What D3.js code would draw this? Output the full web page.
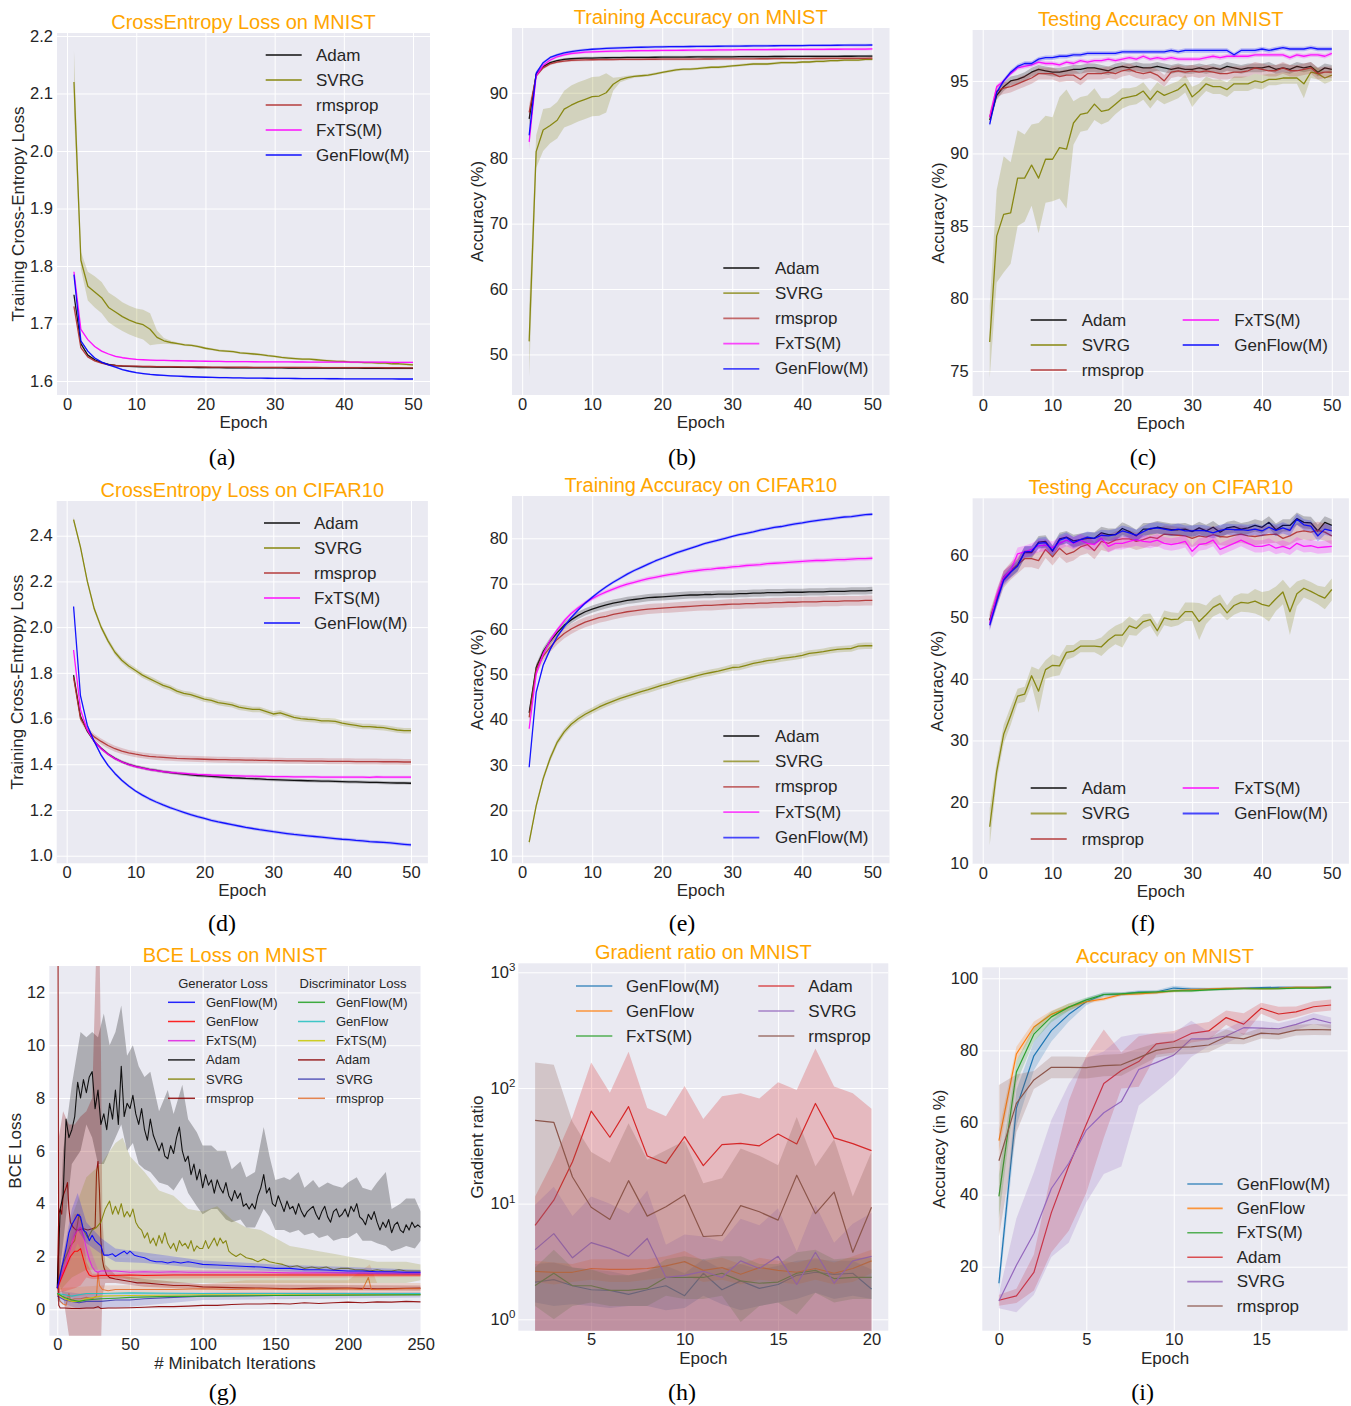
<!DOCTYPE html>
<html><head><meta charset="utf-8">
<script src="https://cdn.jsdelivr.net/npm/d3@7"></script>
<style>body{margin:0;background:#fff} svg{display:block} text{font-family:"Liberation Sans",Arial,Helvetica,sans-serif}</style>
</head><body><svg id="c" width="1351" height="1406"></svg>
<script>
// ======================= DATA =======================
const EPOCHS = d3.range(1, 51);
const NAMES5 = ["Adam","SVRG","rmsprop","FxTS(M)","GenFlow(M)"];
const COL5 = ["#000000","#808000","#b03030","#ff00ff","#0000ff"];

// (a) CrossEntropy loss on MNIST
const a_adam = [1.75,1.665,1.645,1.637,1.632,1.629,1.627,1.626,1.6255,1.625,1.6248,1.6246,1.6244,1.6242,1.624,1.624,1.6238,1.6236,1.6235,1.6234,1.6233,1.6232,1.6231,1.623,1.623,1.623,1.6229,1.6228,1.6228,1.6227,1.6227,1.6226,1.6226,1.6225,1.6225,1.6225,1.6224,1.6224,1.6224,1.6223,1.6223,1.6223,1.6222,1.6222,1.6222,1.6221,1.6221,1.6221,1.622,1.622];
const a_svrg = [2.12,1.81,1.765,1.755,1.745,1.728,1.72,1.712,1.706,1.701,1.698,1.69,1.676,1.67,1.667,1.665,1.663,1.662,1.66,1.657,1.655,1.653,1.652,1.651,1.649,1.648,1.647,1.646,1.644,1.643,1.641,1.64,1.639,1.638,1.638,1.637,1.636,1.635,1.634,1.634,1.633,1.633,1.632,1.632,1.631,1.631,1.63,1.63,1.629,1.628];
const a_svrg_sd = [0.055,0.015,0.025,0.027,0.027,0.026,0.026,0.025,0.025,0.025,0.026,0.028,0.012,0.005,0.003,0.002,0.002,0.002,0.002,0.002,0.002,0.002,0.002,0.002,0.002,0.002,0.002,0.002,0.002,0.002,0.002,0.002,0.002,0.002,0.002,0.002,0.002,0.002,0.002,0.002,0.002,0.002,0.002,0.002,0.002,0.002,0.002,0.002,0.002,0.002];
const a_rms = [1.73,1.658,1.642,1.635,1.631,1.628,1.627,1.6265,1.626,1.6258,1.6255,1.6253,1.6251,1.625,1.6249,1.6248,1.6247,1.6246,1.6245,1.6244,1.6243,1.6242,1.6241,1.624,1.624,1.624,1.6239,1.6238,1.6238,1.6237,1.6237,1.6236,1.6236,1.6235,1.6235,1.6235,1.6234,1.6234,1.6234,1.6233,1.6233,1.6233,1.6232,1.6232,1.6232,1.6231,1.6231,1.6231,1.623,1.623];
const a_fxts = [1.79,1.69,1.672,1.66,1.652,1.647,1.643,1.6405,1.639,1.6375,1.637,1.6365,1.636,1.6358,1.6355,1.6353,1.635,1.6348,1.6346,1.6344,1.6342,1.634,1.6339,1.6338,1.6337,1.6336,1.6335,1.6334,1.6333,1.6333,1.6332,1.6332,1.6331,1.6331,1.633,1.633,1.633,1.6329,1.6329,1.6329,1.6328,1.6328,1.6328,1.6327,1.6327,1.6327,1.6326,1.6326,1.6326,1.6325];
const a_gen = [1.785,1.67,1.652,1.64,1.633,1.628,1.624,1.62,1.617,1.6145,1.613,1.6115,1.6105,1.6097,1.609,1.6084,1.6079,1.6074,1.607,1.6066,1.6063,1.606,1.6058,1.6056,1.6054,1.6052,1.605,1.6049,1.6048,1.6047,1.6046,1.6045,1.6044,1.6043,1.6042,1.6041,1.6041,1.604,1.604,1.6039,1.6039,1.6038,1.6038,1.6037,1.6037,1.6036,1.6036,1.6035,1.6035,1.6035];
const a_sd_small = 0.0015;

// (b) Training accuracy on MNIST
const b_adam = [86,92.8,94,94.6,94.9,95.1,95.2,95.25,95.3,95.3,95.33,95.35,95.37,95.38,95.4,95.4,95.41,95.42,95.43,95.44,95.45,95.45,95.46,95.47,95.48,95.48,95.49,95.5,95.5,95.5,95.51,95.52,95.52,95.53,95.53,95.54,95.54,95.55,95.55,95.55,95.56,95.56,95.57,95.57,95.57,95.58,95.58,95.59,95.59,95.6];
const b_svrg = [52,81,84.3,85,85.8,87.5,88.1,88.6,89,89.4,89.5,90,91.3,92,92.3,92.5,92.6,92.7,92.9,93.1,93.3,93.5,93.6,93.6,93.7,93.8,93.9,93.9,94,94.1,94.2,94.3,94.4,94.4,94.4,94.5,94.6,94.6,94.6,94.7,94.7,94.8,94.8,94.9,94.9,95,95,95,95.1,95.1];
const b_svrg_sd = [5.5,2.5,3.2,2.7,2.8,2.8,3,3,3,3,3,3,1,0.4,0.3,0.2,0.2,0.2,0.2,0.2,0.2,0.2,0.2,0.2,0.2,0.2,0.2,0.2,0.2,0.2,0.2,0.2,0.2,0.2,0.2,0.2,0.2,0.2,0.2,0.2,0.2,0.2,0.2,0.2,0.2,0.2,0.2,0.2,0.2,0.2];
const b_rms = [87,92.6,93.8,94.4,94.7,94.85,94.95,95,95.02,95.05,95.06,95.07,95.08,95.09,95.1,95.1,95.11,95.12,95.12,95.13,95.13,95.14,95.14,95.15,95.15,95.16,95.16,95.17,95.17,95.18,95.18,95.19,95.19,95.2,95.2,95.21,95.21,95.22,95.22,95.23,95.23,95.24,95.24,95.25,95.25,95.26,95.26,95.27,95.27,95.3];
const b_fxts = [82.5,92.6,94.2,95,95.5,95.8,96,96.1,96.2,96.25,96.3,96.33,96.36,96.38,96.4,96.42,96.44,96.45,96.46,96.47,96.48,96.49,96.5,96.51,96.52,96.53,96.54,96.55,96.56,96.57,96.58,96.58,96.59,96.6,96.6,96.61,96.61,96.62,96.62,96.63,96.63,96.64,96.64,96.65,96.65,96.66,96.66,96.67,96.67,96.7];
const b_gen = [83.5,93,94.6,95.4,95.8,96.1,96.3,96.45,96.55,96.65,96.72,96.78,96.83,96.87,96.9,96.93,96.96,96.98,97,97.02,97.04,97.05,97.06,97.07,97.08,97.09,97.1,97.11,97.12,97.13,97.14,97.15,97.16,97.17,97.18,97.19,97.2,97.2,97.21,97.22,97.23,97.23,97.24,97.25,97.26,97.27,97.28,97.28,97.29,97.3];
const b_sd_small = 0.2;
const b_sd_first = [1.2,0.3];

// (c) Testing accuracy on MNIST
const c_adam = [92.3,94,94.6,95,95.1,95.3,95.6,95.8,95.7,95.6,95.6,95.7,95.8,95.8,95.9,95.9,95.8,95.7,95.9,96.0,95.9,96.0,95.9,95.9,96.0,95.9,95.8,95.9,95.8,95.8,95.9,95.8,95.9,95.8,96.0,95.9,95.8,95.9,95.9,95.9,96.0,95.8,95.9,95.8,96.0,95.9,96.0,95.6,95.9,95.8];
const c_svrg = [77,84.3,85.8,85.9,88.3,88.3,89.2,88.3,89.6,89.6,90.4,90.3,92.1,92.7,92.8,93.4,92.9,93.0,93.4,93.8,93.9,94.0,94.3,93.7,94.3,94.0,94.2,94.4,94.8,93.9,94.3,94.8,94.6,94.6,94.4,94.8,94.8,94.8,95.0,94.9,95.1,95.1,95.2,95.2,95.2,94.8,95.6,95.5,95.2,95.4];
const c_svrg_sd = [2.5,3.2,4,3.5,3.3,3,2.8,3.8,3,2.9,3.5,4.1,1.5,1.2,1.2,1.1,0.9,0.8,0.7,0.7,0.6,0.6,0.6,0.6,0.6,0.6,0.6,0.6,0.6,0.7,0.5,0.5,0.5,0.5,0.5,0.5,0.5,0.5,0.5,0.5,0.4,0.4,0.4,0.4,0.4,1.0,0.4,0.4,0.4,0.4];
const c_rms = [92.5,94.3,94.5,94.6,94.8,95.0,95.2,95.5,95.5,95.5,95.3,95.4,95.4,95.1,95.5,95.5,95.5,95.6,95.5,95.7,95.8,95.6,95.5,95.6,95.4,95.0,95.6,95.7,95.6,95.7,95.6,95.7,95.6,95.5,95.5,95.6,95.6,95.7,95.9,95.8,95.7,95.7,95.9,95.7,95.7,95.8,95.9,95.5,95.6,95.6];
const c_fxts = [92.5,94.6,95.0,95.5,95.9,96.0,96.1,96.3,96.2,96.2,96.1,96.3,96.2,96.4,96.3,96.4,96.4,96.5,96.4,96.5,96.6,96.5,96.7,96.5,96.6,96.5,96.6,96.5,96.5,96.5,96.5,96.6,96.7,96.6,96.7,96.7,96.7,96.7,96.8,96.8,96.8,96.8,96.8,96.6,96.8,96.7,96.8,96.8,96.7,96.9];
const c_gen = [92.0,94.2,95.0,95.6,96.0,96.2,96.2,96.5,96.6,96.6,96.7,96.7,96.8,96.8,96.9,96.9,96.9,96.9,96.9,97.0,97.0,97.0,97.0,97.0,97.0,97.0,97.1,97.0,97.1,97.1,97.1,97.1,97.1,97.1,97.1,96.8,97.1,97.1,97.1,97.2,97.1,97.2,97.3,97.2,97.2,97.2,97.3,97.2,97.2,97.2];
const c_sd_adam = 0.3, c_sd_rms = 0.4, c_sd_fxts = 0.15, c_sd_gen = 0.15;

// (d) CrossEntropy loss on CIFAR10
const d_adam = [1.79,1.61,1.545,1.5,1.47,1.445,1.426,1.411,1.4,1.391,1.384,1.378,1.373,1.368,1.364,1.36,1.357,1.354,1.351,1.349,1.347,1.345,1.343,1.341,1.34,1.338,1.337,1.336,1.334,1.333,1.332,1.331,1.33,1.329,1.328,1.327,1.326,1.326,1.325,1.324,1.323,1.323,1.322,1.321,1.321,1.32,1.319,1.318,1.318,1.317];
const d_svrg = [2.47,2.35,2.2,2.08,2.0,1.94,1.89,1.855,1.83,1.81,1.79,1.775,1.76,1.745,1.735,1.72,1.71,1.705,1.695,1.685,1.68,1.67,1.665,1.66,1.65,1.645,1.64,1.64,1.63,1.62,1.625,1.615,1.605,1.6,1.597,1.595,1.59,1.59,1.588,1.58,1.575,1.57,1.565,1.565,1.562,1.56,1.555,1.55,1.547,1.547];
const d_rms = [1.78,1.6,1.55,1.52,1.5,1.482,1.468,1.458,1.45,1.444,1.439,1.435,1.432,1.43,1.428,1.426,1.425,1.424,1.423,1.422,1.421,1.42,1.42,1.419,1.419,1.418,1.418,1.417,1.417,1.416,1.416,1.415,1.415,1.415,1.414,1.414,1.414,1.413,1.413,1.413,1.413,1.412,1.412,1.412,1.412,1.411,1.411,1.411,1.41,1.41];
const d_fxts = [1.9,1.64,1.55,1.5,1.468,1.444,1.425,1.41,1.399,1.39,1.383,1.377,1.372,1.368,1.365,1.362,1.36,1.358,1.356,1.355,1.353,1.352,1.351,1.35,1.349,1.348,1.348,1.347,1.347,1.346,1.346,1.346,1.345,1.345,1.345,1.345,1.344,1.344,1.344,1.344,1.344,1.344,1.344,1.343,1.345,1.344,1.344,1.344,1.344,1.344];
const d_gen = [2.09,1.7,1.57,1.5,1.44,1.395,1.36,1.33,1.305,1.283,1.265,1.249,1.235,1.222,1.21,1.2,1.19,1.18,1.171,1.163,1.155,1.148,1.142,1.136,1.13,1.124,1.119,1.114,1.11,1.105,1.101,1.097,1.093,1.09,1.087,1.084,1.081,1.078,1.075,1.072,1.07,1.067,1.065,1.062,1.06,1.058,1.056,1.053,1.05,1.047];
const d_sd_adam = 0.007, d_sd_svrg = 0.012, d_sd_rms = 0.013, d_sd_fxts = 0.006, d_sd_gen = 0.007;

// (e) Training accuracy on CIFAR10
const e_adam = [41.5,51.5,55,57.3,59.2,60.8,62,63,63.8,64.4,64.9,65.3,65.7,66,66.3,66.5,66.7,66.9,67,67.1,67.2,67.3,67.4,67.5,67.5,67.6,67.6,67.7,67.7,67.7,67.8,67.8,67.9,67.9,68,68,68,68.1,68.1,68.1,68.2,68.2,68.2,68.3,68.3,68.3,68.4,68.4,68.4,68.5];
const e_svrg = [13,21,27,31.5,35,37.3,39,40.2,41.2,42,42.8,43.5,44.1,44.7,45.2,45.7,46.2,46.6,47.1,47.6,48.0,48.5,48.9,49.3,49.7,50.1,50.4,50.7,51.1,51.5,51.6,52.0,52.4,52.7,53.0,53.2,53.5,53.7,53.9,54.2,54.6,54.8,55.0,55.3,55.5,55.6,55.7,56.2,56.3,56.3];
const e_rms = [40.5,51,54,56,57.7,59,60,60.8,61.5,62,62.5,62.8,63.2,63.5,63.8,64,64.2,64.4,64.5,64.6,64.7,64.8,64.9,65,65.1,65.2,65.2,65.3,65.4,65.5,65.5,65.6,65.6,65.7,65.7,65.8,65.8,65.9,65.9,66,66,66,66.1,66.1,66.1,66.2,66.2,66.2,66.3,66.3];
const e_fxts = [38,50,54.5,57.5,59.8,61.8,63.4,64.7,65.8,66.7,67.5,68.2,68.8,69.4,69.9,70.3,70.7,71.1,71.4,71.7,72,72.2,72.5,72.7,72.9,73.1,73.2,73.4,73.5,73.7,73.8,74,74.1,74.2,74.4,74.5,74.6,74.7,74.8,74.9,75,75.1,75.1,75.2,75.3,75.3,75.4,75.5,75.5,75.6];
const e_gen = [29.5,46,52,55.5,58.3,60.5,62.5,64.2,65.7,67,68.2,69.3,70.3,71.2,72.1,72.9,73.6,74.3,75,75.6,76.2,76.8,77.3,77.8,78.3,78.8,79.2,79.6,80.0,80.4,80.8,81.1,81.4,81.8,82.1,82.4,82.6,82.9,83.2,83.4,83.7,83.9,84.1,84.3,84.5,84.7,84.8,85.0,85.2,85.3];
const e_sd_adam = 0.8, e_sd_svrg = 0.7, e_sd_rms = 1.1, e_sd_fxts = 0.45, e_sd_gen = 0.35;

// (f) Testing accuracy on CIFAR10
const f_adam = [49.5,53,56.5,57.5,58.5,60.5,60.5,62.2,62.3,60.7,62.7,63.0,62.4,62.6,62.8,62.8,63.7,63.4,63.4,64.4,63.9,63.2,64.3,64.3,64.6,64.4,64.2,64.2,64.3,63.9,64.5,64.0,64.6,63.8,64.5,64.7,64.3,64.5,64.9,64.6,65.4,64.2,64.9,64.9,66.0,65.4,65.3,64.0,65.4,64.9];
const f_svrg = [16,25,31,34,37.2,37.5,40.5,38,41.5,42.2,42.1,44.3,44.5,45.3,45.3,45.3,45.2,46.3,47.1,47.1,48.6,48.2,49.3,49.6,47.8,49.9,49.6,49.7,50.9,50.9,49.3,50.4,51.6,52.2,50.7,51.9,52.4,52.3,52.6,52.1,51.8,53.0,54.1,50.9,53.8,54.7,54.2,53.6,53.1,54.5];
const f_svrg_sd = [3,1.5,1.5,1.5,1.2,1.2,1.5,3.5,1.5,1.8,1.5,1.2,1,1,1,1,1.5,1.5,1.5,2,1.5,1.2,1.2,1,1,1.2,1.2,1,1.5,1.5,3,1.5,1.5,1.5,1.2,1.5,1.5,1.5,2,2,2.5,2,2,3.8,2,1.5,1.5,1.5,1.8,1.8];
const f_rms = [49.5,53,56.2,57.5,58.5,59.5,59.5,59.2,61.0,59.8,61.2,60.2,60.6,61.4,61.8,60.8,62.3,62.0,62.5,62.7,62.7,62.3,62.6,63.0,62.8,63.5,63.4,63.3,63.2,62.8,63.2,63.0,63.4,63.1,63.0,63.3,63.5,63.2,63.1,63.3,63.4,63.5,62.8,63.2,63.8,64.0,63.8,64.1,63.8,63.2];
const f_fxts = [49,53.5,56.5,57.6,60.3,60.6,61,61.6,61.7,61.3,62,62.5,62.0,62.5,62.0,61.8,62.8,61.5,62.0,62.0,62.3,62.6,62.3,62.2,62.5,62.0,61.8,62.0,62.3,60.7,61.8,62.0,62.5,61.0,61.5,62.0,62.5,62.0,61.5,61.5,61.8,61.2,61.5,61.1,62.0,61.5,61.6,61.3,61.4,61.5];
const f_gen = [48.7,52.5,56.0,57.3,58.3,60.6,60.7,62.0,62.1,60.8,62.5,62.9,62.1,62.6,63.0,62.8,63.3,63.2,63.4,64.0,63.7,63.3,63.9,64.4,64.5,64.3,64.1,64.3,64.0,64.0,64.1,64.0,63.7,64.1,64.3,64.2,64.2,64.1,64.3,64.0,64.6,64.1,64.5,64.1,65.9,65.0,64.8,63.2,64.3,64.0];
const f_sd_adam = 1.0, f_sd_rms = 1.4, f_sd_fxts = 1.0, f_sd_gen = 0.9;

// (g) BCE loss on MNIST  (iteration, value) pairs; bands (iteration, low, high)
const g_it2 = d3.range(0, 251, 2);
const g_gen_adam = [0.8,3.8,4.3,7.2,6.5,6.8,7.3,8.6,8.0,8.7,8.2,8.8,9.0,7.6,8.3,7.0,7.4,6.8,7.8,7.2,8.3,7.0,9.2,7.3,7.8,7.6,8.1,7.4,7.0,7.6,6.8,6.4,7.2,6.6,6.3,6.0,6.3,5.8,5.7,6.2,5.9,6.5,6.9,6.0,5.6,5.8,5.1,5.5,4.9,5.3,4.6,5.1,4.7,4.9,4.4,4.9,4.6,4.4,4.8,4.3,4.1,4.5,4.2,4.4,3.9,4.0,3.8,4.0,3.8,4.3,4.6,5.1,4.4,4.6,4.0,3.9,4.3,4.0,3.7,4.1,3.8,3.9,3.6,4.0,3.7,3.5,3.7,3.8,3.9,3.6,3.4,3.7,3.9,3.5,3.3,3.7,3.8,3.5,3.6,3.8,3.5,3.9,3.7,4.0,3.5,3.4,3.2,3.6,3.4,3.7,3.3,3.0,3.3,3.1,3.4,2.9,3.2,3.3,3.0,2.9,3.2,3.0,3.3,3.1,3.2,3.1];
const g_gen_adam_band = [[0,0.6,1.0],[4,2.5,6],[10,5.5,8.5],[16,6,10.5],[20,7,10.3],[24,6.5,10.5],[28,5.5,10.3],[32,5.5,11.2],[36,6,10],[40,6.5,10.5],[44,7,11.5],[48,6,9.6],[52,6.3,10],[56,5.5,9.2],[60,5.3,8.8],[64,5.2,9],[70,4.8,7.5],[76,4.7,8.3],[80,4.5,7.4],[86,5,8.5],[90,4.4,7.2],[96,3.9,6.7],[100,3.6,6.2],[106,3.8,6.2],[110,3.8,6],[116,3.4,6],[120,3.3,5.3],[126,3.4,5.6],[130,3.1,5],[136,3.1,5.2],[142,3.8,6.9],[146,3.5,5.8],[150,3.0,4.9],[156,3.0,5.0],[160,2.9,4.9],[166,3.0,5.2],[170,2.8,4.6],[176,2.9,4.9],[180,2.7,4.6],[186,2.8,4.8],[190,2.6,4.7],[196,2.7,4.6],[200,2.7,4.8],[206,2.9,5.0],[210,2.6,4.6],[216,2.6,4.5],[220,2.5,4.8],[226,2.4,5.2],[230,2.2,3.8],[236,2.3,4.0],[240,2.4,4.2],[246,2.3,4.2],[250,2.6,3.7]];
const g_gen_svrg = [[0,0.8],[3,1.6],[6,2.0],[9,2.4],[12,2.6],[15,3.6],[18,3.0],[21,2.7],[24,3.0],[27,3.1],[30,3.3],[33,3.8],[36,4.1],[38,3.6],[40,3.9],[42,3.6],[44,4.0],[46,3.5],[48,3.7],[50,3.5],[52,3.8],[54,3.3],[56,3.1],[58,3.0],[60,2.7],[62,2.9],[64,2.5],[66,2.7],[68,2.4],[70,2.8],[72,2.5],[74,2.9],[76,2.5],[78,2.3],[80,2.5],[82,2.2],[84,2.6],[86,2.4],[88,2.5],[90,2.3],[92,2.6],[94,2.2],[96,2.4],[98,2.3],[100,2.3],[102,2.6],[104,2.3],[106,2.5],[108,2.7],[110,2.4],[112,2.7],[114,2.5],[116,2.6],[118,2.2],[120,2.1],[123,2.0],[126,2.1],[130,1.95],[134,1.9],[138,1.8],[142,1.9],[146,1.8],[150,1.75],[155,1.7],[160,1.6],[165,1.65],[170,1.55],[175,1.6],[180,1.55],[185,1.6],[190,1.5],[195,1.55],[200,1.55],[205,1.5],[210,1.5],[215,1.45],[220,1.5],[225,1.45],[230,1.45],[235,1.5],[240,1.45],[245,1.45],[250,1.45]];
const g_gen_svrg_band = [[0,0.6,1.0],[10,1.2,3.5],[20,1.5,5.0],[30,1.5,5.5],[40,1.2,6.3],[45,1.2,6.5],[50,1.1,5.8],[60,1.0,5.2],[70,1.0,4.5],[80,1.0,4.3],[90,1.0,3.8],[100,1.0,3.7],[110,1.0,3.9],[120,1.0,3.4],[130,1.0,3.1],[140,1.0,3.0],[150,1.0,2.7],[160,1.0,2.4],[170,1.0,2.3],[180,1.0,2.2],[190,1.0,2.1],[200,1.0,2.0],[210,1.0,1.9],[220,1.0,1.8],[230,1.0,1.8],[240,1.0,1.8],[250,1.1,1.7]];
const g_gen_gfm = [[0,0.8],[2,1.3],[4,1.8],[6,2.3],[8,2.9],[10,3.2],[12,3.4],[14,3.6],[16,3.5],[18,3.0],[20,2.9],[22,2.6],[24,2.8],[26,2.6],[28,2.5],[30,2.4],[32,2.05],[35,2.05],[38,2.1],[40,2.0],[43,2.1],[46,2.2],[48,2.1],[50,2.2],[53,2.05],[56,2.0],[60,1.95],[64,1.85],[68,1.8],[72,1.8],[76,1.75],[80,1.8],[85,1.75],[90,1.8],[95,1.75],[100,1.7],[110,1.68],[120,1.65],[130,1.62],[140,1.6],[150,1.55],[160,1.55],[170,1.5],[180,1.5],[190,1.48],[200,1.45],[210,1.45],[220,1.42],[230,1.42],[240,1.4],[250,1.4]];
const g_gen_gfm_band = [[0,0.7,0.9],[10,2.6,3.8],[14,3.0,4.4],[20,2.5,3.3],[30,2.1,2.7],[40,1.8,2.3],[60,1.75,2.15],[100,1.55,1.85],[150,1.45,1.7],[200,1.35,1.6],[250,1.3,1.5]];
const g_gen_gf = [[0,0.8],[3,1.2],[6,1.6],[9,2.0],[12,2.2],[14,2.2],[16,2.3],[18,1.9],[20,1.5],[22,1.3],[24,1.25],[26,1.25],[30,1.28],[40,1.28],[50,1.3],[60,1.28],[80,1.3],[100,1.3],[120,1.3],[150,1.3],[180,1.3],[200,1.3],[220,1.3],[250,1.3]];
const g_gen_gf_band = [[0,0.6,0.9],[12,0.8,3.6],[16,0.9,3.6],[20,1.2,1.8],[24,1.15,1.35],[250,1.22,1.38]];
const g_gen_fxts = [[0,0.8],[3,1.3],[6,1.7],[9,2.3],[12,2.8],[14,3.0],[16,3.1],[18,2.8],[20,2.3],[22,1.9],[24,1.6],[26,1.45],[28,1.4],[30,1.45],[35,1.45],[40,1.45],[50,1.4],[60,1.42],[70,1.4],[80,1.42],[90,1.4],[100,1.4],[120,1.4],[140,1.4],[160,1.38],[180,1.38],[200,1.38],[220,1.37],[250,1.37]];
const g_gen_fxts_band = [[0,0.7,0.9],[14,2.5,3.5],[20,1.9,2.7],[28,1.3,1.5],[250,1.3,1.45]];
const g_gen_rms = [[0,0.8],[1,3.6],[2,3.8],[3,3.6],[4,4.3],[6,4.6],[7,4.8],[8,3.8],[9,3.3],[11,3.1],[13,3.0],[15,3.0],[18,3.05],[21,3.0],[24,3.05],[26,3.1],[27,5.2],[28,5.6],[29,4.5],[30,2.6],[31,1.9],[32,1.6],[34,1.3],[36,1.2],[40,1.15],[45,1.1],[50,1.05],[55,1.0],[60,1.0],[70,0.95],[80,0.9],[90,0.9],[100,0.85],[120,0.82],[140,0.8],[160,0.78],[180,0.8],[200,0.8],[220,0.78],[250,0.8]];
const g_gen_rms_band = [[0,0.6,1.0],[1,1.0,6.5],[4,0.5,7.5],[8,-1.0,7.0],[12,-1.2,7.0],[16,-1.5,7.3],[20,-1.5,7.5],[24,-1.5,8.0],[26,-1.5,12],[27,-1.5,14],[29,-1.5,14],[30,-1.5,10],[31,0.5,3.5],[33,1.0,1.7],[40,1.0,1.3],[60,0.85,1.15],[100,0.75,0.95],[250,0.7,0.9]];
const g_dis_gfm = [[0,0.6],[5,0.45],[10,0.35],[15,0.3],[20,0.35],[30,0.4],[40,0.42],[50,0.45],[70,0.48],[100,0.5],[150,0.52],[200,0.53],[250,0.55]];
const g_dis_gf = [[0,0.6],[5,0.55],[10,0.5],[20,0.6],[30,0.6],[50,0.62],[100,0.6],[150,0.6],[200,0.6],[250,0.6]];
const g_dis_fxts = [[0,0.6],[5,0.4],[10,0.3],[15,0.3],[20,0.4],[30,0.5],[50,0.52],[100,0.55],[150,0.55],[200,0.55],[250,0.55]];
const g_dis_adam = [[0,27],[1,0.15],[2,0.05],[5,0.05],[10,0.03],[15,0.03],[20,0.05],[25,0.05],[28,0.1],[30,0.03],[35,0.05],[40,0.05],[50,0.06],[60,0.08],[70,0.1],[80,0.1],[90,0.12],[100,0.15],[110,0.15],[120,0.18],[130,0.2],[140,0.2],[150,0.22],[160,0.2],[170,0.25],[180,0.22],[190,0.25],[200,0.27],[210,0.25],[220,0.28],[230,0.27],[240,0.3],[250,0.28]];
const g_dis_svrg = [[0,0.5],[5,0.35],[10,0.3],[15,0.25],[20,0.3],[30,0.3],[40,0.35],[50,0.35],[60,0.4],[80,0.45],[100,0.5],[150,0.52],[200,0.55],[250,0.55]];
const g_dis_svrg_band = [[0,0.3,0.7],[15,0.0,0.6],[50,0.1,0.6],[100,0.35,0.65],[250,0.45,0.65]];
const g_dis_rms = [[0,0.6],[2,0.3],[4,0.2],[6,0.15],[8,0.6],[9,0.35],[12,0.4],[16,0.4],[20,0.45],[24,0.4],[27,0.5],[28,1.4],[29,0.9],[31,0.75],[35,0.7],[40,0.75],[50,0.75],[60,0.75],[80,0.75],[100,0.78],[120,0.75],[140,0.78],[160,0.75],[180,0.75],[200,0.78],[210,0.75],[214,1.2],[216,0.75],[220,0.75],[240,0.78],[250,0.78]];
const g_dis_rms_band = [[0,0.4,0.8],[30,0.6,0.9],[100,0.65,0.95],[130,0.6,1.1],[200,0.6,1.1],[215,0.6,1.7],[220,0.6,1.0],[250,0.6,1.0]];

// (h) Gradient ratio on MNIST
const h_epochs = [2,3,4,5,6,7,8,9,10,11,12,13,14,15,16,17,18,19,20];
const h_gfm = [2.1,2.2,1.95,1.8,1.78,1.64,1.8,1.95,1.6,2.5,1.8,2.15,1.85,2.0,2.4,2.55,2.45,2.5,1.83];
const h_gfm_lo = [1.4,1.3,1.35,1.3,1.25,1.3,1.3,1.2,1.25,1.6,1.35,1.2,1.3,1.4,1.5,1.7,1.5,1.6,1.5];
const h_gfm_hi = [3.0,3.1,2.8,2.7,2.6,2.4,2.6,2.9,2.5,3.3,2.7,3.0,2.7,2.9,3.2,3.3,3.2,3.2,2.7];
const h_gf = [2.6,2.55,2.55,2.75,2.7,2.7,2.75,2.9,3.15,2.65,2.8,2.45,2.8,2.65,2.55,2.75,2.5,2.75,3.2];
const h_gf_lo = [2.1,2.0,2.1,2.2,2.1,2.1,2.2,2.3,2.4,2.1,2.2,2.0,2.2,2.1,2.0,2.2,2.0,2.1,2.5];
const h_gf_hi = [3.2,3.1,3.0,3.3,3.3,3.3,3.3,3.5,3.9,3.2,3.4,3.0,3.4,3.2,3.1,3.4,3.1,3.5,4.0];
const h_fx = [1.96,2.5,1.95,1.95,1.78,1.78,1.85,2.3,2.3,2.3,2.5,2.15,2.05,2.1,2.5,2.65,2.25,2.3,2.3];
const h_fx_lo = [1.3,1.0,1.3,1.4,1.3,1.3,1.3,1.6,1.5,1.5,1.6,0.95,1.3,1.4,1.1,1.7,1.4,1.5,1.5];
const h_fx_hi = [2.8,4.0,2.8,2.7,2.4,2.4,2.6,3.3,3.5,3.3,3.5,3.5,3.0,3.0,3.8,4.0,3.3,3.4,3.4];
const h_adam = [6.5,10.7,23,63,37.5,69,25.8,22.3,37.9,21.3,32.4,33.2,31.6,40,32.8,73.5,37,33,28.7];
const h_adam_lo = [0.5,0.5,0.5,0.5,0.5,0.5,0.5,0.5,0.5,0.5,0.5,0.5,0.5,0.5,0.5,0.5,0.5,0.5,0.5];
const h_adam_hi = [11.5,24,56,166,91,206,67,57,104,54,85,90,81,112,96,219,103,90,66];
const h_svrg = [4.0,5.5,3.4,4.6,4.1,3.5,5.0,2.3,2.4,2.6,2.3,3.2,2.75,3.5,2.0,3.8,2.05,3.2,3.5];
const h_svrg_lo = [0.5,0.5,0.6,0.5,0.6,0.6,0.5,0.7,0.6,0.6,0.7,0.5,0.6,0.6,0.7,0.5,0.7,0.6,0.6];
const h_svrg_hi = [9.8,14,7.8,11.5,10,8.2,13,4.4,5.4,5.2,4.7,7.4,6.5,9.1,3.85,9.8,4.6,6.7,8.3];
const h_rms = [52.5,50.5,17,9.3,7.3,15.8,7.8,9.4,11.9,5.2,5.3,9.6,8.5,7.2,17.6,8.2,12.6,3.8,9.3];
const h_rms_lo = [0.5,0.5,0.5,0.5,0.5,0.5,0.5,0.5,0.5,0.5,0.5,0.5,0.5,0.5,0.5,0.5,0.5,0.5,0.5];
const h_rms_hi = [166,159,51,28,22.6,49.5,24,29,35,15,16.6,30,26,21.5,56,21,36,11.5,28];

// (i) Accuracy on MNIST
const i_epochs = [0,1,2,3,4,5,6,7,8,9,10,11,12,13,14,15,16,17,18,19];
const i_gfm = [15.4,64,78.5,85.5,90,93.5,95.5,95.6,96.2,96.2,97.3,97.0,97.0,97.1,97.3,97.4,97.5,97.5,97.5,97.6];
const i_gfm_sd = [3,5,4,3,2,1,0.6,0.5,0.5,0.5,0.6,0.5,0.4,0.4,0.3,0.3,0.3,0.3,0.3,0.3];
const i_gf = [55,79,86.5,90,92,93.5,94.3,95.5,95.7,96.0,96.5,96.8,97.0,97.2,97.2,97.1,97.2,97.5,97.5,97.5];
const i_gf_sd = [3,2,1.5,1,1,0.5,0.5,0.4,0.4,0.4,0.4,0.4,0.3,0.3,0.3,0.3,0.3,0.3,0.3,0.3];
const i_fx = [39.5,74,84.5,89.3,92,94,95.5,95.7,96,96.2,96.5,96.5,96.8,97,97.1,97.1,97.1,97.3,97.3,97.4];
const i_fx_sd = [6,3,2,1.5,1,0.7,0.5,0.4,0.4,0.4,0.4,0.4,0.3,0.3,0.3,0.3,0.3,0.3,0.3,0.3];
const i_adam = [10.7,11.9,18.4,35,48,59.5,70.8,74.4,76.9,81.8,82.4,84.7,85.4,89.1,87.3,91.7,90.1,90.7,92.1,92.6];
const i_adam_sd = [1.5,2,5,11,18,19,15,5,7,3,3,2.5,2.5,2,3,1.5,2,1.5,1.5,1.5];
const i_svrg = [10.5,20.4,29.2,41.7,48.7,57.9,62.7,65.8,74.7,76.6,78.7,83.2,83.2,84.0,86.3,86.2,86.0,87.2,88.8,87.6];
const i_svrg_sd = [2,13,17,19,22,20,17,18,10,8,6,5,2,2,2,2,1.5,1.5,1.5,1.5];
const i_rms = [49.4,65.3,71.8,75.3,75.3,75.2,75.8,76,78,80,80.8,81,81.5,83.8,83.2,84.8,84.5,85.6,85.8,85.7];
const i_rms_sd = [21,8,2.5,3,3,3,3,3,2.5,2,2,2,2,2,1.5,1.5,1.5,1.5,1.5,1.5];

const TAB = {gfm:"#1f77b4", gf:"#ff7f0e", fx:"#2ca02c", adam:"#d62728", svrg:"#9467bd", rms:"#8c564b"};

// ======================= DRAWING =======================
const svg = d3.select('#c');
svg.append('rect').attr('width',1351).attr('height',1406).attr('fill','#fff');
const TXT = '#262626';
let clipN = 0;

function serSD(xs, ys, sd, color, o = {}) {
  const pts = xs.map((x, i) => ({x, y: ys[i]}));
  const band = sd == null ? null : xs.map((x, i) => {
    const s = Array.isArray(sd) ? (sd[i] !== undefined ? sd[i] : sd[sd.length - 1]) : sd;
    return {x, lo: ys[i] - s, hi: ys[i] + s};
  });
  return Object.assign({pts, band, color}, o);
}
function serLH(xs, ys, lo, hi, color, o = {}) {
  return Object.assign({pts: xs.map((x, i) => ({x, y: ys[i]})), band: xs.map((x, i) => ({x, lo: lo[i], hi: hi[i]})), color}, o);
}
function serP(pairs, triples, color, o = {}) {
  return Object.assign({pts: pairs.map(p => ({x: p[0], y: p[1]})), band: triples ? triples.map(t => ({x: t[0], lo: t[1], hi: t[2]})) : null, color}, o);
}

function panel(c) {
  const g = svg.append('g');
  const x = d3.scaleLinear().domain(c.xdom).range([c.L, c.R]);
  const y = (c.log ? d3.scaleLog() : d3.scaleLinear()).domain(c.ydom).range([c.B, c.T]);
  g.append('rect').attr('x', c.L).attr('y', c.T).attr('width', c.R - c.L).attr('height', c.B - c.T).attr('fill', '#EAEAF2');
  g.append('g').attr('transform', `translate(0,${c.B})`)
    .call(d3.axisBottom(x).tickValues(c.xticks).tickSize(-(c.B - c.T)).tickFormat(''))
    .call(s => { s.select('.domain').remove(); s.selectAll('line').attr('stroke', '#fff').attr('stroke-width', 1); });
  g.append('g').attr('transform', `translate(${c.L},0)`)
    .call(d3.axisLeft(y).tickValues(c.yticks).tickSize(-(c.R - c.L)).tickFormat(''))
    .call(s => { s.select('.domain').remove(); s.selectAll('line').attr('stroke', '#fff').attr('stroke-width', 1); });
  const id = 'clip' + (clipN++);
  g.append('clipPath').attr('id', id).append('rect').attr('x', c.L).attr('y', c.T).attr('width', c.R - c.L).attr('height', c.B - c.T);
  const p = g.append('g').attr('class', 'plotarea').attr('clip-path', `url(#${id})`);
  const yy = v => c.log ? y(Math.max(v, 1e-3)) : y(v);
  const line = d3.line().x(d => x(d.x)).y(d => yy(d.y));
  const area = d3.area().x(d => x(d.x)).y0(d => yy(d.lo)).y1(d => yy(d.hi));
  if (c.preBand) p.append('path').attr('d', d3.area().x(d => x(d[0])).y0(d => yy(d[1])).y1(d => yy(d[2]))(c.preBand.data))
      .attr('fill', c.preBand.color).attr('fill-opacity', c.preBand.op);
  c.series.forEach(s => {
    if (s.band) p.append('path').attr('d', area(s.band)).attr('fill', s.color).attr('fill-opacity', s.bop != null ? s.bop : (c.bop || 0.22)).attr('stroke', 'none');
    p.append('path').attr('d', line(s.pts)).attr('fill', 'none').attr('stroke', s.color)
      .attr('stroke-width', s.w || c.lw || 1.3).attr('stroke-opacity', s.op != null ? s.op : (c.lop || 0.9)).attr('stroke-linejoin', 'round');
  });
  g.append('g').attr('transform', `translate(0,${c.B})`)
    .call(d3.axisBottom(x).tickValues(c.xticks).tickSize(0).tickPadding(3).tickFormat(c.xfmt || d3.format('d')))
    .call(s => { s.select('.domain').remove(); s.selectAll('text').attr('font-size', 16.5).attr('fill', TXT).attr('font-family', '"Liberation Sans",Arial,sans-serif'); });
  const ya = g.append('g').attr('transform', `translate(${c.L},0)`)
    .call(d3.axisLeft(y).tickValues(c.yticks).tickSize(0).tickPadding(c.log ? 3 : 4).tickFormat(c.log ? () => '' : (c.yfmt || d3.format('d'))))
    .call(s => { s.select('.domain').remove(); s.selectAll('text').attr('font-size', 16.5).attr('fill', TXT).attr('font-family', '"Liberation Sans",Arial,sans-serif'); });
  if (c.log) {
    ya.selectAll('.tick text').each(function (d) {
      const t = d3.select(this);
      t.append('tspan').text('10');
      t.append('tspan').attr('dy', '-0.6em').attr('font-size', 11.5).text(Math.round(Math.log10(d)));
    });
  }
  const cx = (c.L + c.R) / 2, cy = (c.T + c.B) / 2;
  g.append('text').attr('x', cx).attr('y', c.T - 11).attr('text-anchor', 'middle').attr('dominant-baseline', 'central')
    .attr('font-size', 20).attr('fill', '#FFA500').text(c.title);
  g.append('text').attr('x', cx).attr('y', c.B + 27.5).attr('text-anchor', 'middle').attr('dominant-baseline', 'central')
    .attr('font-size', 17).attr('fill', TXT).text(c.xlabel);
  g.append('text').attr('transform', `translate(${c.ylx},${cy}) rotate(-90)`).attr('text-anchor', 'middle').attr('dominant-baseline', 'central')
    .attr('font-size', 17).attr('fill', TXT).text(c.ylabel);
  g.append('text').attr('x', c.capX).attr('y', c.capY).attr('text-anchor', 'middle').attr('dominant-baseline', 'central')
    .attr('font-size', 24).attr('fill', '#000').style('font-family', '"Liberation Serif","Times New Roman",serif').text(c.caption);
  return g;
}

function legendItem(g, label, color, x1, x2, tx, yv, fs, w, op) {
  g.append('line').attr('x1', x1).attr('x2', x2).attr('y1', yv).attr('y2', yv).attr('stroke', color).attr('stroke-width', w || 1.8).attr('stroke-opacity', op != null ? op : 0.7);
  g.append('text').attr('x', tx).attr('y', yv).attr('dominant-baseline', 'central').attr('font-size', fs).attr('fill', TXT).text(label);
}

// ---------- (a) ----------
let G = panel({L: 57, R: 430, T: 33, B: 395, xdom: [-1.45, 52.45], ydom: [1.5757, 2.2052],
  xticks: [0, 10, 20, 30, 40, 50], yticks: [1.6, 1.7, 1.8, 1.9, 2.0, 2.1, 2.2], yfmt: d3.format('.1f'),
  title: 'CrossEntropy Loss on MNIST', xlabel: 'Epoch', ylabel: 'Training Cross-Entropy Loss', ylx: 18, caption: '(a)', capX: 222, capY: 457,
  series: [serSD(EPOCHS, a_adam, a_sd_small, COL5[0]), serSD(EPOCHS, a_svrg, a_svrg_sd, COL5[1]), serSD(EPOCHS, a_rms, a_sd_small, COL5[2]),
           serSD(EPOCHS, a_fxts, a_sd_small, COL5[3]), serSD(EPOCHS, a_gen, a_sd_small, COL5[4])]});
NAMES5.forEach((n, i) => legendItem(G, n, COL5[i], 265.7, 301.7, 316, 55 + 25 * i, 17));

// ---------- (b) ----------
G = panel({L: 512, R: 889.5, T: 28, B: 395, xdom: [-1.45, 52.45], ydom: [43.8, 99.9],
  xticks: [0, 10, 20, 30, 40, 50], yticks: [50, 60, 70, 80, 90],
  title: 'Training Accuracy on MNIST', xlabel: 'Epoch', ylabel: 'Accuracy (%)', ylx: 477.7, caption: '(b)', capX: 682, capY: 457,
  series: [serSD(EPOCHS, b_adam, b_sd_first.concat([b_sd_small]), COL5[0]), serSD(EPOCHS, b_svrg, b_svrg_sd, COL5[1]),
           serSD(EPOCHS, b_rms, b_sd_first.concat([b_sd_small]), COL5[2]), serSD(EPOCHS, b_fxts, b_sd_first.concat([b_sd_small]), COL5[3]),
           serSD(EPOCHS, b_gen, b_sd_first.concat([b_sd_small]), COL5[4])]});
NAMES5.forEach((n, i) => legendItem(G, n, COL5[i], 723.3, 759.3, 775, 268 + 25.2 * i, 17));

// ---------- (c) ----------
G = panel({L: 972.6, R: 1348.9, T: 30, B: 396, xdom: [-1.45, 52.45], ydom: [73.28, 98.51],
  xticks: [0, 10, 20, 30, 40, 50], yticks: [75, 80, 85, 90, 95],
  title: 'Testing Accuracy on MNIST', xlabel: 'Epoch', ylabel: 'Accuracy (%)', ylx: 938, caption: '(c)', capX: 1143, capY: 457,
  series: [serSD(EPOCHS, c_adam, c_sd_adam, COL5[0]), serSD(EPOCHS, c_svrg, c_svrg_sd, COL5[1]), serSD(EPOCHS, c_rms, c_sd_rms, COL5[2]),
           serSD(EPOCHS, c_fxts, c_sd_fxts, COL5[3]), serSD(EPOCHS, c_gen, c_sd_gen, COL5[4])]});
[0, 1, 2].forEach(i => legendItem(G, NAMES5[i], COL5[i], 1030.7, 1066.7, 1081.7, 320 + 25 * i, 17));
[3, 4].forEach((k, i) => legendItem(G, NAMES5[k], COL5[k], 1182.7, 1219, 1234.3, 320 + 25 * i, 17));

// ---------- (d) ----------
G = panel({L: 56.7, R: 427.9, T: 501, B: 863.3, xdom: [-1.45, 52.45], ydom: [0.9668, 2.5518],
  xticks: [0, 10, 20, 30, 40, 50], yticks: [1.0, 1.2, 1.4, 1.6, 1.8, 2.0, 2.2, 2.4], yfmt: d3.format('.1f'),
  title: 'CrossEntropy Loss on CIFAR10', xlabel: 'Epoch', ylabel: 'Training Cross-Entropy Loss', ylx: 17, caption: '(d)', capX: 222, capY: 923,
  series: [serSD(EPOCHS, d_adam, d_sd_adam, COL5[0]), serSD(EPOCHS, d_svrg, d_sd_svrg, COL5[1]), serSD(EPOCHS, d_rms, d_sd_rms, COL5[2]),
           serSD(EPOCHS, d_fxts, d_sd_fxts, COL5[3]), serSD(EPOCHS, d_gen, d_sd_gen, COL5[4])]});
NAMES5.forEach((n, i) => legendItem(G, n, COL5[i], 264, 300, 314, 523 + 25 * i, 17));

// ---------- (e) ----------
G = panel({L: 512, R: 889.5, T: 496, B: 863.3, xdom: [-1.45, 52.45], ydom: [8.32, 89.33],
  xticks: [0, 10, 20, 30, 40, 50], yticks: [10, 20, 30, 40, 50, 60, 70, 80],
  title: 'Training Accuracy on CIFAR10', xlabel: 'Epoch', ylabel: 'Accuracy (%)', ylx: 477.7, caption: '(e)', capX: 682, capY: 923,
  series: [serSD(EPOCHS, e_adam, e_sd_adam, COL5[0]), serSD(EPOCHS, e_svrg, e_sd_svrg, COL5[1]), serSD(EPOCHS, e_rms, e_sd_rms, COL5[2]),
           serSD(EPOCHS, e_fxts, e_sd_fxts, COL5[3]), serSD(EPOCHS, e_gen, e_sd_gen, COL5[4])]});
NAMES5.forEach((n, i) => legendItem(G, n, COL5[i], 723.3, 759.3, 775, 736 + 25.4 * i, 17));

// ---------- (f) ----------
G = panel({L: 972.6, R: 1348.9, T: 498.3, B: 864, xdom: [-1.45, 52.45], ydom: [9.95, 69.3],
  xticks: [0, 10, 20, 30, 40, 50], yticks: [10, 20, 30, 40, 50, 60],
  title: 'Testing Accuracy on CIFAR10', xlabel: 'Epoch', ylabel: 'Accuracy (%)', ylx: 937.7, caption: '(f)', capX: 1143, capY: 923,
  series: [serSD(EPOCHS, f_adam, f_sd_adam, COL5[0]), serSD(EPOCHS, f_svrg, f_svrg_sd, COL5[1]), serSD(EPOCHS, f_rms, f_sd_rms, COL5[2]),
           serSD(EPOCHS, f_fxts, f_sd_fxts, COL5[3]), serSD(EPOCHS, f_gen, f_sd_gen, COL5[4])]});
[0, 1, 2].forEach(i => legendItem(G, NAMES5[i], COL5[i], 1030.7, 1066.7, 1081.7, 788 + 25.5 * i, 17));
[3, 4].forEach((k, i) => legendItem(G, NAMES5[k], COL5[k], 1182.7, 1219, 1234.3, 788 + 25.5 * i, 17));

// ---------- (g) ----------
const GEN_NAMES = ["GenFlow(M)", "GenFlow", "FxTS(M)", "Adam", "SVRG", "rmsprop"];
const GEN_COL = ["#0000ff", "#ff0000", "#e020e0", "#000000", "#808000", "#8b0000"];
const DIS_COL = ["#20a020", "#20c0c0", "#c8c800", "#8b0000", "#4040b0", "#e07030"];
G = panel({L: 49.3, R: 420.7, T: 966, B: 1335.7, xdom: [-5.5, 250], ydom: [-1, 13],
  xticks: [0, 50, 100, 150, 200, 250], yticks: [0, 2, 4, 6, 8, 10, 12], lw: 1.1, bop: 0.2,
  preBand: {data: g_gen_adam_band, color: '#000', op: 0.26},
  title: 'BCE Loss on MNIST', xlabel: '# Minibatch Iterations', ylabel: 'BCE Loss', ylx: 15, caption: '(g)', capX: 222.7, capY: 1392,
  series: [
    serP(g_gen_rms, g_gen_rms_band, GEN_COL[5], {bop: 0.25}),
    serP(g_dis_rms, g_dis_rms_band, DIS_COL[5]),
    serP(g_gen_svrg, g_gen_svrg_band, GEN_COL[4]),
    serP(g_dis_svrg, g_dis_svrg_band, DIS_COL[4]),
    serSD(g_it2, g_gen_adam, null, GEN_COL[3], {}),
    serP(g_dis_adam, null, DIS_COL[3]),
    serP(g_gen_fxts, g_gen_fxts_band, GEN_COL[2]),
    serP(g_dis_fxts, null, DIS_COL[2]),
    serP(g_gen_gf, g_gen_gf_band, GEN_COL[1]),
    serP(g_dis_gf, null, DIS_COL[1]),
    serP(g_gen_gfm, g_gen_gfm_band, GEN_COL[0]),
    serP(g_dis_gfm, null, DIS_COL[0])
  ]});
G.append('text').attr('x', 223).attr('y', 983).attr('text-anchor', 'middle').attr('dominant-baseline', 'central').attr('font-size', 13).attr('fill', TXT).text('Generator Loss');
G.append('text').attr('x', 353).attr('y', 983).attr('text-anchor', 'middle').attr('dominant-baseline', 'central').attr('font-size', 13).attr('fill', TXT).text('Discriminator Loss');
GEN_NAMES.forEach((n, i) => {
  legendItem(G, n, GEN_COL[i], 168, 195, 206, 1002.3 + 19.2 * i, 13, 1.5, 0.85);
  legendItem(G, n, DIS_COL[i], 298, 325, 336, 1002.3 + 19.2 * i, 13, 1.5, 0.85);
});

// ---------- (h) ----------
G = panel({L: 518.3, R: 888.3, T: 963.3, B: 1330.7, xdom: [1.1, 20.9], ydom: [0.797, 1196], log: true,
  xticks: [5, 10, 15, 20], yticks: [1, 10, 100, 1000], lw: 1.2, lop: 1, bop: 0.25,
  title: 'Gradient ratio on MNIST', xlabel: 'Epoch', ylabel: 'Gradient ratio', ylx: 477.7, caption: '(h)', capX: 682, capY: 1392,
  series: [serLH(h_epochs, h_gfm, h_gfm_lo, h_gfm_hi, TAB.gfm), serLH(h_epochs, h_gf, h_gf_lo, h_gf_hi, TAB.gf),
           serLH(h_epochs, h_fx, h_fx_lo, h_fx_hi, TAB.fx), serLH(h_epochs, h_adam, h_adam_lo, h_adam_hi, TAB.adam),
           serLH(h_epochs, h_svrg, h_svrg_lo, h_svrg_hi, TAB.svrg), serLH(h_epochs, h_rms, h_rms_lo, h_rms_hi, TAB.rms)]});
[["GenFlow(M)", TAB.gfm], ["GenFlow", TAB.gf], ["FxTS(M)", TAB.fx]].forEach((d, i) => legendItem(G, d[0], d[1], 576, 612.3, 626, 986 + 25 * i, 17, 1.6, 0.8));
[["Adam", TAB.adam], ["SVRG", TAB.svrg], ["rmsprop", TAB.rms]].forEach((d, i) => legendItem(G, d[0], d[1], 758.3, 794.3, 808.3, 986 + 25 * i, 17, 1.6, 0.8));

// ---------- (i) ----------
G = panel({L: 982.3, R: 1347.7, T: 967.3, B: 1330.7, xdom: [-0.95, 19.95], ydom: [2.25, 103.05],
  xticks: [0, 5, 10, 15], yticks: [20, 40, 60, 80, 100], lw: 1.2, lop: 1, bop: 0.22,
  title: 'Accuracy on MNIST', xlabel: 'Epoch', ylabel: 'Accuracy (in %)', ylx: 939.3, caption: '(i)', capX: 1142.7, capY: 1392,
  series: [serSD(i_epochs, i_gfm, i_gfm_sd, TAB.gfm), serSD(i_epochs, i_gf, i_gf_sd, TAB.gf), serSD(i_epochs, i_fx, i_fx_sd, TAB.fx),
           serSD(i_epochs, i_adam, i_adam_sd, TAB.adam), serSD(i_epochs, i_svrg, i_svrg_sd, TAB.svrg), serSD(i_epochs, i_rms, i_rms_sd, TAB.rms)]});
[["GenFlow(M)", TAB.gfm], ["GenFlow", TAB.gf], ["FxTS(M)", TAB.fx], ["Adam", TAB.adam], ["SVRG", TAB.svrg], ["rmsprop", TAB.rms]]
  .forEach((d, i) => legendItem(G, d[0], d[1], 1187.3, 1222.7, 1236.7, 1184 + 24.4 * i, 17, 1.6, 0.8));
</script></body></html>
